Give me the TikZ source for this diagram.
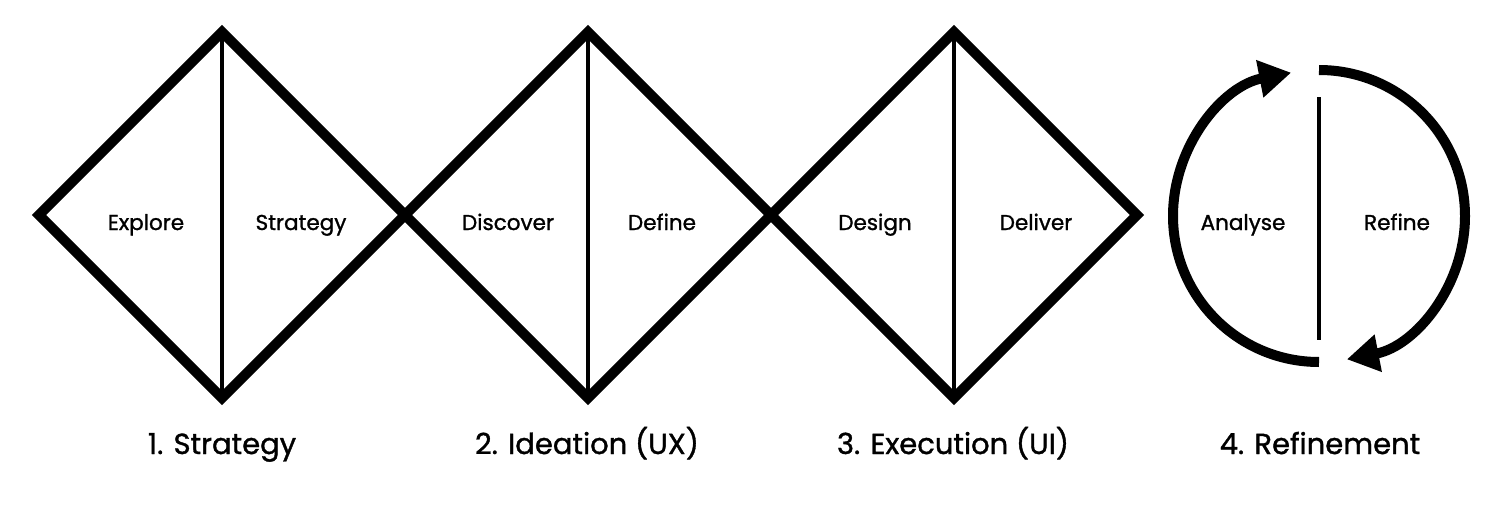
\documentclass[tikz,border=0pt]{standalone}
\usepackage{fontspec}
\setmainfont{Poppins}[FakeBold=1.2]
\usetikzlibrary{arrows.meta}
\begin{document}
\begin{tikzpicture}[x=1pt,y=-1pt,
  dia/.style={line width=10pt,line join=miter,miter limit=10},
  divider/.style={line width=3.5pt},
  lbl/.style={font=\fontsize{21.5}{24}\selectfont,anchor=base},
  title/.style={font=\fontsize{29}{33}\selectfont,anchor=base},
  cyc/.style={line width=10pt,-{Triangle[length=32pt,width=36pt]}}]
\useasboundingbox (0,0) rectangle (1500,506);
% diamonds
\foreach \cx/\n in {222/a,588/b,954/c}{
  \coordinate (\n t) at (\cx,32);
  \coordinate (\n b) at (\cx,398);
  \coordinate (\n l) at (\cx-183,215);
  \coordinate (\n r) at (\cx+183,215);
  \draw[dia] (\n t) -- (\n r) -- (\n b) -- (\n l) -- cycle;
  \draw[divider] (\n t) -- (\n b);
}
\node[lbl] (explore) at (146,230) {Explore};
\node[lbl] (strat) at (301,230) {Strategy};
\node[lbl] (disc) at (508,230) {Discover};
\node[lbl] (defn) at (662,230) {Define};
\node[lbl] (desg) at (875,230) {Design};
\node[lbl] (delv) at (1036,230) {Deliver};
\node[lbl] (anal) at (1243,230) {Analyse};
\node[lbl] (refi) at (1397,230) {Refine};
% cycle
\coordinate (cc) at (1319,216);
\draw[cyc] (1319,70) arc[start angle=-90,end angle=79,radius=146];
\draw[cyc] (1319,362) arc[start angle=90,end angle=259,radius=146];
\draw[divider] (1319,97) -- (1319,340);
% titles
\node[title] (t1) at (222,454) {1. Strategy};
\node[title] (t2) at (587,454) {2. Ideation (UX)};
\node[title] (t3) at (953,454) {3. Execution (UI)};
\node[title] (t4) at (1320,454) {4. Refinement};
\end{tikzpicture}
\end{document}
